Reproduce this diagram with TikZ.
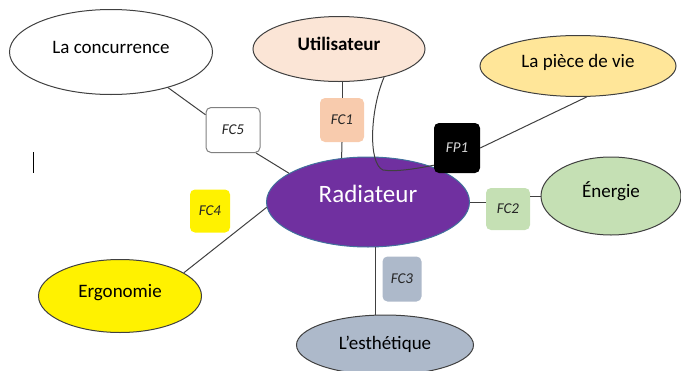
\documentclass[tikz,border=0pt]{standalone}
\usepackage{fontspec}
\setmainfont{Carlito}
\usetikzlibrary{shapes.geometric}
\definecolor{bordbulle}{HTML}{404040}
\definecolor{utilcol}{HTML}{FBE5D6}
\definecolor{piececol}{HTML}{FFE699}
\definecolor{radcol}{HTML}{7030A0}
\definecolor{radbord}{HTML}{41719C}
\definecolor{enercol}{HTML}{C5E0B4}
\definecolor{esthcol}{HTML}{ADB9CA}
\definecolor{fcunecol}{HTML}{F8CBAD}
\definecolor{fctxt}{HTML}{262626}
\tikzset{
  bulle/.style={ellipse, draw=bordbulle, line width=1pt, inner sep=0pt, text height=14pt, text depth=12pt, font=\fontsize{19}{22}\selectfont},
  fcbox/.style={rectangle, rounded corners=5pt, inner sep=0pt, minimum width=44pt, minimum height=44pt, font=\fontsize{15}{18}\selectfont\itshape, text=fctxt},
  lien/.style={draw=bordbulle, line width=1pt}
}
\begin{document}
\begin{tikzpicture}[x=1pt, y=-1pt]
\useasboundingbox (0,0) rectangle (681,370);
% bulles
\node[bulle, fill=white, minimum width=203pt, minimum height=85pt] (conc) at (111,52) {La concurrence};
\node[bulle, fill=utilcol, minimum width=172pt, minimum height=65pt, font=\fontsize{19}{22}\selectfont\bfseries] (util) at (339,49) {Utilisateur};
\node[bulle, fill=piececol, minimum width=196pt, minimum height=61pt] (piece) at (578,66) {La pièce de vie};
\node[bulle, fill=radcol, draw=radbord, text=white, minimum width=203pt, minimum height=90pt, text height=18pt, text depth=17pt, font=\fontsize{25}{30}\selectfont] (rad) at (368,202) {Radiateur};
\node[bulle, fill=enercol, minimum width=140pt, minimum height=78pt] (ener) at (611,196) {Énergie};
\node[bulle, fill=yellow, minimum width=163pt, minimum height=73pt] (ergo) at (120,296) {Ergonomie};
\node[bulle, fill=esthcol, minimum width=177pt, minimum height=60pt, text depth=5pt] (esth) at (385,345) {L’esthétique};
% fonctions
\node[fcbox, fill=fcunecol] (fc1) at (342,120) {FC1};
\node[fcbox, fill=enercol, minimum height=42pt] (fc2) at (508,209) {FC2};
\node[fcbox, fill=esthcol, minimum width=39pt, minimum height=45pt] (fc3) at (402,279) {FC3};
\node[fcbox, fill=yellow, minimum width=40pt, minimum height=43pt] (fc4) at (210,211) {FC4};
\node[fcbox, fill=white, draw=gray, line width=1pt, minimum width=54pt, minimum height=45pt] (fc5) at (233,130) {FC5};
\node[fcbox, fill=black, text=white!85!black, minimum width=46pt, minimum height=50pt] (fp1) at (457,148) {FP1};
% liens
\draw[lien] (conc.-32) -- (fc5.151);
\draw[lien] (fc5.-45) -- (rad.160);
\draw[lien] (util.south -| fc1.north) -- (fc1.north);
\draw[lien] (fc1.south) -- (rad.121);
\draw[lien] (util.-32) .. controls (370,110) and (368,164) .. (383,170) .. controls (395,172) and (415,169) .. ([yshift=8pt]fp1.south west);
\draw[lien] (fp1.east) -- (piece.-74);
\draw[lien] (rad.east) -- (rad.east -| fc2.west);
\draw[lien] (fc2.east |- ener.west) -- (ener.west);
\draw[lien] (ergo.20) -- (rad.183);
\draw[lien] (rad.-80) -- (rad.-80 |- esth.north);
\draw[line width=1pt] (33,152) -- (33,173);
\end{tikzpicture}
\end{document}
